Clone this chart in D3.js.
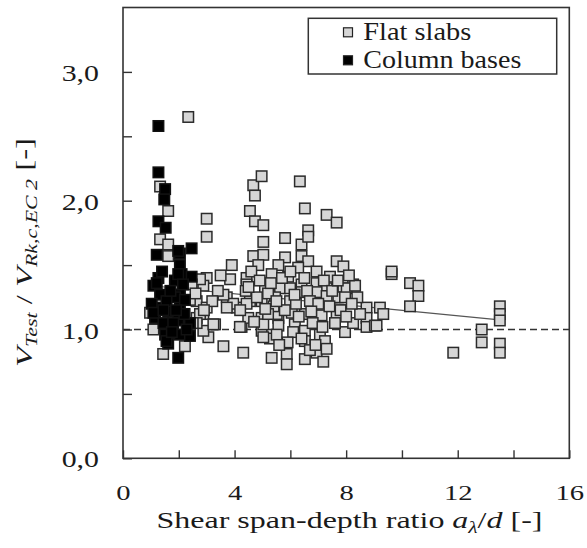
<!DOCTYPE html>
<html>
<head>
<meta charset="utf-8">
<script src="https://cdn.jsdelivr.net/npm/d3@7"></script>
<style>
  html, body { margin: 0; padding: 0; background: #fff; }
  svg { display: block; }
  text { font-family: "Liberation Serif", "Times New Roman", Tinos, "Nimbus Roman", Times, serif; fill: #1a1a1a; }
</style>
</head>
<body>
<svg id="chart" width="587" height="548"></svg>
<script>
// Flat slabs: shear span-depth ratio a/d and V_Test / V_Rk,c,EC2
const slabX = [2.34,1.33,1.62,3.00,3.00,1.33,1.62,1.62,3.90,3.00,2.64,2.88,3.84,4.43,3.72,4.08,2.64,3.00,2.88,2.64,
  3.30,3.06,3.60,2.22,1.44,1.09,0.97,4.31,4.25,4.49,4.55,4.67,4.97,4.73,4.55,4.73,5.03,4.67,5.81,5.03,
  6.34,6.52,7.30,7.66,6.64,6.40,6.64,5.03,5.81,6.40,6.64,7.66,7.90,9.63,9.63,10.29,10.59,10.59,10.29,4.85,
  5.57,5.33,5.92,6.28,6.94,7.42,5.09,5.63,5.99,6.40,6.94,7.30,7.90,8.25,4.97,5.45,5.99,6.40,6.94,7.30,
  7.72,8.73,9.21,4.97,5.57,6.05,6.52,7.12,7.66,8.73,9.33,4.97,5.57,6.16,6.52,7.06,7.96,8.25,8.73,9.03,
  5.27,6.52,7.24,5.33,5.87,5.87,6.52,6.94,7.18,6.70,11.84,12.86,12.86,13.51,13.51,13.51,13.51,13.51,8.02,8.32,
  7.96,9.09,2.88,3.95,4.43,4.43,2.76,2.40,2.76,3.24,4.19,5.03,5.51,5.51,5.03,3.72,3.60,2.46,2.64,
  4.60,4.90,5.20,5.40,5.70,5.80,6.00,6.20,6.30,6.50,6.60,6.70,6.80,7.00,7.20,7.40,7.50,7.60,7.80,8.00,
  8.10,8.40,8.50,6.10,6.40,6.90,7.30,5.90,5.60,5.20,4.80,4.40,4.20,3.40,3.20,2.60,2.90,3.50,2.50,2.20,
  4.50,5.10,5.50,6.15,6.75,7.15,7.70,8.20,4.70,5.30];
const slabY = [2.65,2.11,1.92,1.86,1.72,1.70,1.66,1.57,1.50,1.40,1.35,1.34,1.39,1.40,1.25,1.17,1.22,1.17,1.12,1.09,
  1.04,0.94,0.87,0.87,0.81,1.00,1.13,0.82,1.02,1.09,1.22,2.12,2.19,2.04,1.92,1.84,1.81,1.57,1.71,1.68,
  2.15,1.94,1.89,1.83,1.77,1.66,1.72,1.58,1.56,1.57,1.53,1.53,1.49,1.43,1.45,1.36,1.34,1.26,1.18,1.50,
  1.50,1.43,1.41,1.48,1.45,1.41,1.32,1.32,1.32,1.35,1.36,1.32,1.32,1.35,1.22,1.25,1.22,1.29,1.29,1.26,
  1.25,1.17,1.17,1.09,1.09,1.13,1.12,1.11,1.12,1.09,1.12,0.99,1.03,1.04,0.99,0.96,0.98,1.05,1.02,1.03,
  0.93,0.91,0.91,0.78,0.81,0.73,0.77,0.82,0.75,0.84,0.82,1.00,0.90,1.18,1.12,1.07,0.89,0.82,1.32,1.34,
  1.25,1.03,0.99,1.20,1.20,1.35,1.39,1.23,1.12,1.04,1.02,1.04,1.12,0.96,0.94,1.17,1.27,1.35,1.05,
  1.45,1.38,1.28,1.18,1.40,1.15,1.45,1.20,1.10,1.40,1.30,1.22,1.05,1.20,1.38,1.18,1.30,1.05,1.15,1.10,
  1.42,1.25,1.12,0.98,0.93,0.88,0.85,0.90,0.88,1.12,1.25,1.30,1.15,1.30,1.22,1.28,1.15,1.42,1.05,1.12,
  1.33,1.16,1.22,1.27,1.14,1.02,1.38,1.20,1.06,1.36];

// Column bases
const baseX = [1.27,1.27,1.51,1.48,1.27,1.53,2.46,2.04,1.21,2.04,1.27,1.09,2.10,2.46,1.33,2.04,1.27,1.62,2.04,1.15,
  1.98,2.40,1.51,2.04,1.62,2.40,1.98,1.86,1.86,1.03,1.98,1.21,1.98,1.09,1.56,2.22,1.56,2.28,1.45,1.80,
  1.75,2.20,1.90,1.70,1.40,2.15,1.45];
const baseY = [2.58,2.22,2.09,2.01,1.84,1.79,1.63,1.59,1.58,1.50,1.40,1.34,1.43,1.41,1.27,1.27,1.17,1.14,1.18,1.09,
  1.07,1.05,0.96,0.96,0.89,0.95,0.78,1.25,1.38,1.20,1.61,1.36,1.43,1.13,1.22,1.23,0.91,1.00,1.05,1.05,
  0.98,1.12,1.15,1.30,1.45,1.35,1.15];

// Linear trend of the flat-slab results and the reference level
const trendX = [1.2, 13.5];
const trendY = [1.336, 1.075];
const refLevel = 1.0;

const xTickValues = [0, 2, 4, 6, 8, 10, 12, 14, 16];
const xLabelValues = [0, 4, 8, 12, 16];
const yTickValues = [0, 0.5, 1.0, 1.5, 2.0, 2.5, 3.0];
const yLabelValues = [0, 1, 2, 3];

const seriesNames = ["Flat slabs", "Column bases"];

const svg = d3.select("#chart");
const plot = { left: 123, right: 569.3, top: 7.5, bottom: 458.3 };

const x = d3.scaleLinear().domain([0, 16]).range([plot.left, plot.right]);
const y = d3.scaleLinear().domain([0, 3.5]).range([plot.bottom, plot.top]);

const fmt = v => d3.format(".1f")(v).replace(".", ",");
const ink = "#333";
const serif = "'Liberation Serif', 'Times New Roman', Tinos, 'Nimbus Roman', Times, serif";

// axes with inward ticks
const yAxis = d3.axisLeft(y).tickValues(yTickValues).tickSizeInner(-9).tickSizeOuter(0)
  .tickPadding(24).tickFormat(v => yLabelValues.includes(v) ? fmt(v) : "");
const gy = svg.append("g").attr("transform", `translate(${plot.left},0)`).call(yAxis);
gy.attr("font-family", serif);
gy.select(".domain").remove();
gy.selectAll(".tick line").attr("stroke", ink).attr("stroke-width", 1.4);
gy.selectAll(".tick text")
  .attr("x", 0).attr("dy", null).attr("y", 8.5)
  .attr("transform", "translate(-24,0) scale(1.3,1)")
  .attr("font-size", 23).attr("fill", "#1a1a1a");

const xAxis = d3.axisBottom(x).tickValues(xTickValues).tickSizeInner(-8).tickSizeOuter(0)
  .tickFormat(v => xLabelValues.includes(v) ? String(v) : "");
const gx = svg.append("g").attr("transform", `translate(0,${plot.bottom})`).call(xAxis);
gx.attr("font-family", serif);
gx.select(".domain").remove();
gx.selectAll(".tick line").attr("stroke", ink).attr("stroke-width", 1.4);
gx.selectAll(".tick text")
  .attr("y", 0).attr("dy", null)
  .attr("transform", "translate(0,42) scale(1.3,1)")
  .attr("font-size", 22).attr("fill", "#1a1a1a");

// reference level and trend line
svg.append("line")
  .attr("x1", x(0)).attr("x2", x(16)).attr("y1", y(refLevel)).attr("y2", y(refLevel))
  .attr("stroke", ink).attr("stroke-width", 1.3).attr("stroke-dasharray", "7,4");

const pts = (xs, ys) => xs.map((v, i) => ({ x: v, y: ys[i] }));

const line = d3.line().x(d => x(d.x)).y(d => y(d.y));
svg.append("path").datum(pts(trendX, trendY))
  .attr("d", line).attr("fill", "none").attr("stroke", "#555").attr("stroke-width", 1.2);

// markers: flat slabs first, column bases over them
const size = 10.5;
svg.append("g").selectAll("rect").data(pts(slabX, slabY)).join("rect")
  .attr("x", d => x(d.x) - size / 2).attr("y", d => y(d.y) - size / 2)
  .attr("width", size).attr("height", size)
  .attr("fill", "#d6d6d6").attr("stroke", "#2b2b2b").attr("stroke-width", 1.5);

svg.append("g").selectAll("rect").data(pts(baseX, baseY)).join("rect")
  .attr("x", d => x(d.x) - size / 2).attr("y", d => y(d.y) - size / 2)
  .attr("width", size).attr("height", size)
  .attr("fill", "#000").attr("stroke", "#111").attr("stroke-width", 1.5);

// plot frame
svg.append("rect")
  .attr("x", plot.left).attr("y", plot.top)
  .attr("width", plot.right - plot.left).attr("height", plot.bottom - plot.top)
  .attr("fill", "none").attr("stroke", ink).attr("stroke-width", 1.6);

// legend
const lg = svg.append("g");
lg.append("rect").attr("x", 308.3).attr("y", 18.3).attr("width", 248.4).attr("height", 55.7)
  .attr("fill", "#fff").attr("stroke", ink).attr("stroke-width", 1.5);
const legendFill = ["#d6d6d6", "#000"];
const legendTextLen = [108, 158];
seriesNames.forEach((name, i) => {
  const cy = 32.3 + i * 28;
  lg.append("rect").attr("x", 343.5).attr("y", cy - 4.5).attr("width", 9).attr("height", 9)
    .attr("fill", legendFill[i]).attr("stroke", "#222").attr("stroke-width", 1.2);
  lg.append("text").attr("x", 363.3).attr("y", cy + 8)
    .attr("font-family", serif).attr("font-size", 25)
    .attr("textLength", legendTextLen[i]).attr("lengthAdjust", "spacingAndGlyphs")
    .text(name);
});

// x axis title
const xt = svg.append("text").attr("x", 156.5).attr("y", 527.5)
  .attr("font-family", serif).attr("font-size", 24)
  .attr("textLength", 386).attr("lengthAdjust", "spacingAndGlyphs");
xt.append("tspan").text("Shear span-depth ratio ");
xt.append("tspan").attr("font-style", "italic").text("a");
xt.append("tspan").attr("font-style", "italic").attr("font-size", 16).attr("dy", 5).text("λ");
xt.append("tspan").attr("dy", -5).text("/");
xt.append("tspan").attr("font-style", "italic").text("d");
xt.append("tspan").text(" [-]");

// y axis title
const yt = svg.append("text").attr("transform", "translate(32,367) rotate(-90)")
  .attr("x", 0).attr("y", 0).attr("font-family", serif).attr("font-size", 24)
  .attr("textLength", 229).attr("lengthAdjust", "spacingAndGlyphs");
yt.append("tspan").attr("font-style", "italic").text("V");
yt.append("tspan").attr("font-style", "italic").attr("font-size", 16).attr("dy", 5).text("Test");
yt.append("tspan").attr("dy", -5).text(" / ");
yt.append("tspan").attr("font-style", "italic").text("V");
yt.append("tspan").attr("font-style", "italic").attr("font-size", 16).attr("dy", 5).text("Rk,c,EC 2");
yt.append("tspan").attr("dy", -5).text(" [-]");
</script>
</body>
</html>
